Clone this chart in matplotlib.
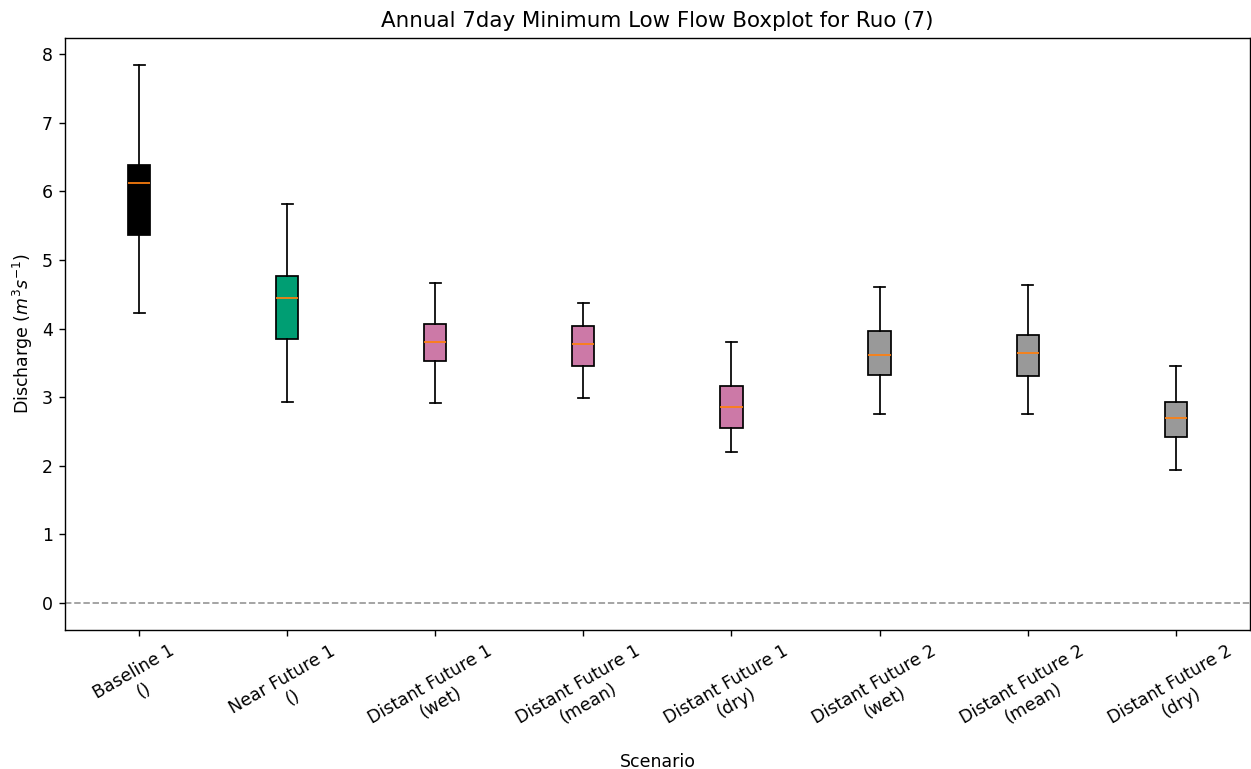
import matplotlib
matplotlib.use("Agg")
import matplotlib.pyplot as plt

# scenario labels and box statistics
labels = ["Baseline 1\n()", "Near Future 1\n()", "Distant Future 1\n(wet)",
          "Distant Future 1\n(mean)", "Distant Future 1\n(dry)", "Distant Future 2\n(wet)",
          "Distant Future 2\n(mean)", "Distant Future 2\n(dry)"]
whislo = [4.23, 2.93, 2.91, 2.99, 2.20, 2.76, 2.76, 1.94]
q1 = [5.36, 3.85, 3.53, 3.46, 2.55, 3.33, 3.31, 2.42]
med = [6.13, 4.44, 3.80, 3.78, 2.85, 3.61, 3.64, 2.69]
q3 = [6.38, 4.77, 4.07, 4.04, 3.17, 3.96, 3.90, 2.93]
whishi = [7.85, 5.81, 4.67, 4.38, 3.81, 4.60, 4.63, 3.45]
colors = ["black", "#009E73", "#CC79A7", "#CC79A7", "#CC79A7", "#999999", "#999999", "#999999"]

stats = []
for i in range(len(labels)):
    stats.append({"label": labels[i], "whislo": whislo[i], "q1": q1[i], "med": med[i],
                  "q3": q3[i], "whishi": whishi[i], "fliers": []})

fig, ax = plt.subplots(figsize=(1251 / 125, 769 / 125), dpi=125)
bp = ax.bxp(stats, widths=0.15, patch_artist=True, showfliers=False,
            medianprops=dict(color="C1"))
for patch, c in zip(bp["boxes"], colors):
    patch.set_facecolor(c)
    patch.set_edgecolor("black")

ax.axhline(0, color="grey", linestyle="--", alpha=0.8, linewidth=1)
ax.set_title("Annual 7day Minimum Low Flow Boxplot for Ruo (7)", fontsize=12.3)
ax.set_xlabel("Scenario")
ax.set_ylabel("Discharge ($m^3s^{-1}$)")
plt.setp(ax.get_xticklabels(), rotation=30)

fig.subplots_adjust(left=0.052, right=0.999, top=0.951, bottom=0.181)
fig.savefig("out.png", dpi=125)
